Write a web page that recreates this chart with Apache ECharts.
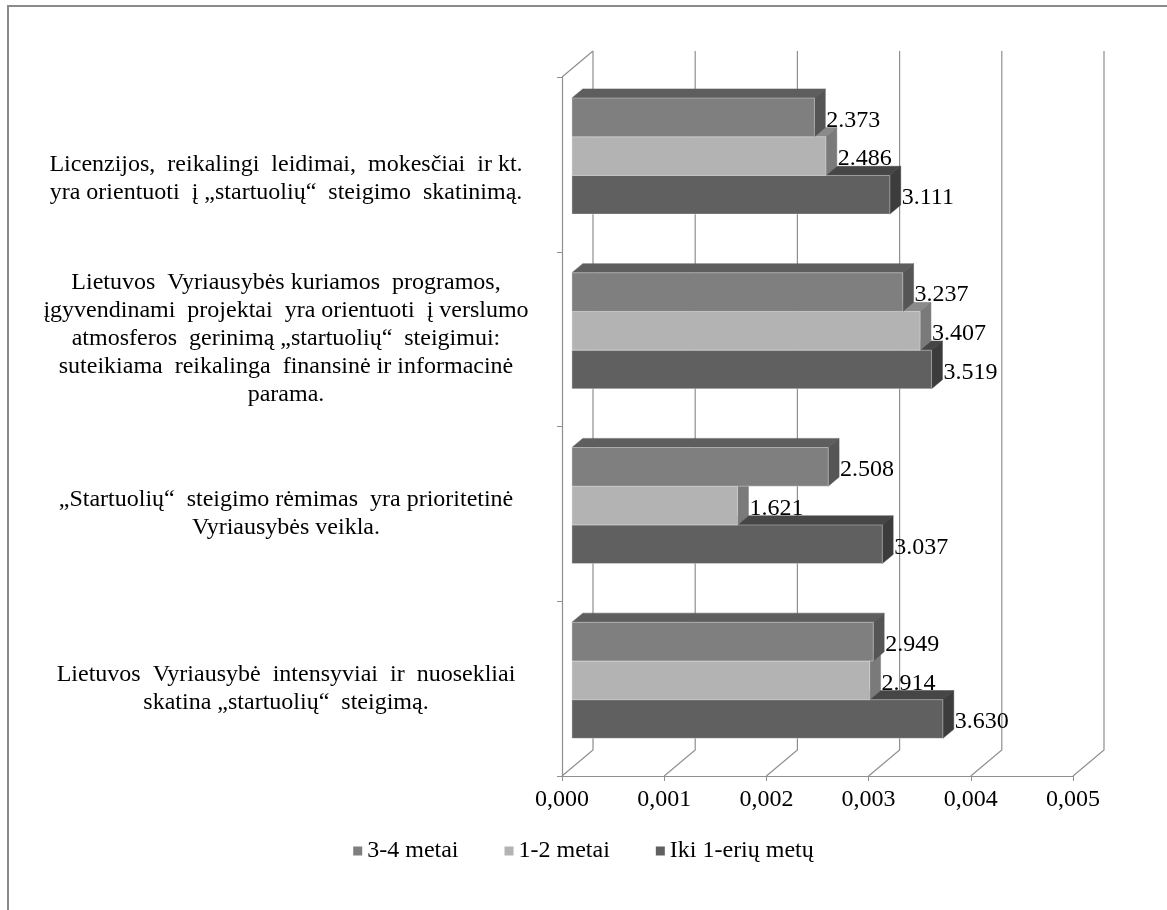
<!DOCTYPE html>
<html>
<head>
<meta charset="utf-8">
<script src="https://cdn.jsdelivr.net/npm/echarts@6/dist/echarts.min.js"></script>
<style>
  html, body { margin: 0; padding: 0; background: #ffffff; }
  #chart { width: 1167px; height: 910px; }
</style>
</head>
<body>
<div id="chart"></div>
<script>
// Survey statements (top to bottom), justified-style spacing kept in the text
const categories = [
  'Licenzijos,  reikalingi  leidimai,  mokesčiai  ir kt.\nyra orientuoti  į „startuolių“  steigimo  skatinimą.',
  'Lietuvos  Vyriausybės kuriamos  programos,\nįgyvendinami  projektai  yra orientuoti  į verslumo\natmosferos  gerinimą „startuolių“  steigimui:\nsuteikiama  reikalinga  finansinė ir informacinė\nparama.',
  '„Startuolių“  steigimo rėmimas  yra prioritetinė\nVyriausybės veikla.',
  'Lietuvos  Vyriausybė  intensyviai  ir  nuosekliai\nskatina „startuolių“  steigimą.'
];

// Mean scores per company age group
const seriesNames = ['3-4 metai', '1-2 metai', 'Iki 1-erių metų'];
const values34 = [2.373, 3.237, 2.508, 2.949];
const values12 = [2.486, 3.407, 1.621, 2.914];
const valuesIki = [3.111, 3.519, 3.037, 3.630];

// Value axis ticks and their printed labels
const tickValues = [0, 1, 2, 3, 4, 5];
const tickLabels = ['0,000', '0,001', '0,002', '0,003', '0,004', '0,005'];

// 3D look: offset of the back wall from the front plane, bar depth range
const DX = 31, DY = -26;
const F1 = 0.32, F2 = 0.67;
const BAR_FRAC = 0.2215;
const FRAME = '#8f8f8f';
const SERIF = "'Liberation Serif', 'Times New Roman', serif";

// front / top / side face shades for each group
const faceStyles = [
  { front: '#7f7f7f', top: '#5e5e5e', side: '#555555' },
  { front: '#b3b3b3', top: '#8a8a8a', side: '#7a7a7a' },
  { front: '#606060', top: '#464646', side: '#3c3c3c' }
];

function barRenderer(slot, faces) {
  return function (params, api) {
    const v = api.value(0);
    const ci = api.value(1);
    const start = api.coord([0, ci]);
    const end = api.coord([v, ci]);
    const band = api.size([0, 1])[1];
    const h = band * BAR_FRAC;
    const yTop = start[1] - 1.5 * h + slot * h;
    const fx = DX * F1, fy = DY * F1, bx = DX * F2, by = DY * F2;
    const x0 = start[0], x1 = end[0];
    const yF = yTop + fy, yB = yTop + by;
    return {
      type: 'group',
      children: [
        { type: 'polygon',
          shape: { points: [[x0 + fx, yF], [x1 + fx, yF], [x1 + bx, yB], [x0 + bx, yB]] },
          style: { fill: faces.top, stroke: faces.top, lineWidth: 0.5 } },
        { type: 'polygon',
          shape: { points: [[x1 + fx, yF], [x1 + bx, yB], [x1 + bx, yB + h], [x1 + fx, yF + h]] },
          style: { fill: faces.side, stroke: faces.side, lineWidth: 0.5 } },
        { type: 'rect',
          shape: { x: x0 + fx, y: yF, width: x1 - x0, height: h },
          style: { fill: faces.front, stroke: 'rgba(255,255,255,0.35)', lineWidth: 1 } },
        { type: 'text', z2: 10,
          style: { x: x1 + bx + 1, y: yF + h / 2 + 3, text: v.toFixed(3),
                   verticalAlign: 'middle', align: 'left',
                   font: '24px ' + SERIF, fill: '#000000' } }
      ]
    };
  };
}

function frameRenderer(params, api) {
  const cs = params.coordSys;
  const v = api.value(0);
  const x = api.coord([v, 0])[0];
  const top = cs.y, bottom = cs.y + cs.height;
  const children = [
    { type: 'polyline',
      shape: { points: [[x, bottom], [x + DX, bottom + DY], [x + DX, top + DY]] },
      style: { stroke: FRAME, lineWidth: 1.2, fill: null } }
  ];
  if (v === 0) {
    children.push({ type: 'line',
      shape: { x1: x, y1: top, x2: x + DX, y2: top + DY },
      style: { stroke: FRAME, lineWidth: 1.2 } });
  }
  return { type: 'group', children: children };
}

const seriesValues = [values34, values12, valuesIki];
const barSeries = seriesValues.map(function (vals, k) {
  return {
    name: seriesNames[k],
    type: 'custom',
    z: 4 - k,
    renderItem: barRenderer(k, faceStyles[k]),
    itemStyle: { color: faceStyles[k].front },
    encode: { x: 0, y: 1 },
    data: vals.map(function (v, i) { return [v, i]; })
  };
}).reverse(); // lowest bar drawn first so upper bars overlap it

const chart = echarts.init(document.getElementById('chart'), null, { renderer: 'canvas' });
chart.setOption({
  animation: false,
  backgroundColor: '#ffffff',
  graphic: [{
    type: 'rect', silent: true,
    shape: { x: 8, y: 6, width: 1200, height: 1000 },
    style: { fill: null, stroke: '#8a8a8a', lineWidth: 2 }
  }],
  grid: { left: 562, right: 94, top: 77, bottom: 134, containLabel: false },
  xAxis: {
    type: 'value', min: 0, max: 5, interval: 1,
    axisLine: { show: true, lineStyle: { color: FRAME, width: 1.2 } },
    axisTick: { show: true, length: 5, lineStyle: { color: FRAME } },
    splitLine: { show: false },
    axisLabel: {
      margin: 12, fontFamily: SERIF, fontSize: 24, color: '#000000',
      formatter: function (v) { return tickLabels[tickValues.indexOf(v)]; }
    }
  },
  yAxis: {
    type: 'category', inverse: true, data: categories,
    axisLine: { show: true, lineStyle: { color: FRAME, width: 1.2 } },
    axisTick: { show: true, length: 5, lineStyle: { color: FRAME } },
    axisLabel: {
      margin: 276, align: 'center', fontFamily: SERIF, fontSize: 24,
      lineHeight: 28, color: '#000000',
      // the first statement sits a little lower in its band
      formatter: function (v, i) { return i === 0 ? '\n' + v : v; }
    }
  },
  legend: {
    data: seriesNames, top: 834, left: 'center',
    icon: 'rect', itemWidth: 9, itemHeight: 9, itemGap: 46,
    textStyle: { fontFamily: SERIF, fontSize: 24, color: '#000000' }
  },
  series: [{
    name: 'frame', type: 'custom', z: 1, silent: true,
    renderItem: frameRenderer,
    encode: { x: 0, y: 1 },
    data: tickValues.map(function (v) { return [v, 0]; })
  }].concat(barSeries)
});
</script>
</body>
</html>
